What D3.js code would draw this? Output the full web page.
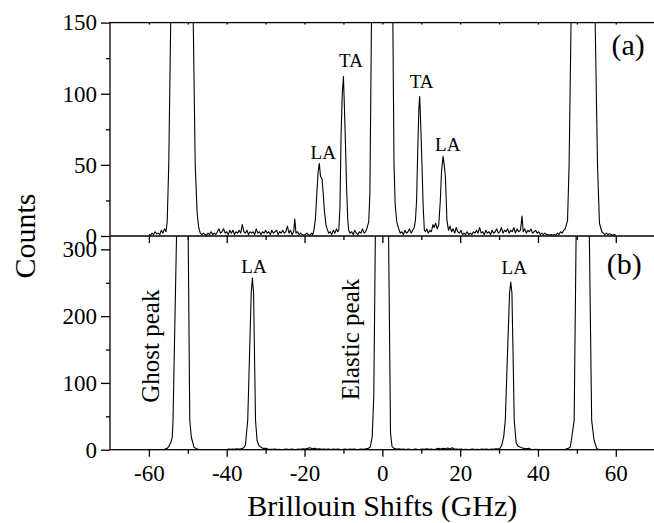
<!DOCTYPE html>
<html>
<head>
<meta charset="utf-8">
<script src="https://cdn.jsdelivr.net/npm/d3@7"></script>
<style>
  body { margin: 0; background: #fff; }
  svg { display: block; }
</style>
</head>
<body>
<svg id="brillouin" width="654" height="523"></svg>
<script>
// spectrum (a): [shift GHz, counts]
const specA = [
  [-60,1],[-59.6,0.5],[-59.2,2],[-58.8,1],[-58.4,3],[-58,1.5],[-57.6,2],[-57.2,1],[-56.8,4],[-56.4,2],[-56,5],[-55.6,3],
  [-55.3,10],[-54.9,50],[-54.4,150],[-53.8,600],[-51.5,3000],[-49.2,600],[-48.6,150],[-48.1,50],[-47.6,16],[-47.2,6],[-46.8,2],
  [-46.4,1],[-46,2],[-45.6,1],[-45.2,0.5],[-44.8,2],[-44.4,1],[-44,3],[-43.6,1],[-43.2,2],[-42.8,1],[-42.4,3],[-42,5],
  [-41.6,2],[-41.2,3],[-40.8,5],[-40.4,2],[-40,3],[-39.6,1],[-39.2,4],[-38.8,2],[-38.4,4],[-38,1],[-37.6,3],[-37.2,2],
  [-36.8,4],[-36.4,2],[-36,8],[-35.6,3],[-35.2,2],[-34.8,4],[-34.4,1],[-34,3],[-33.6,2],[-33.2,3],[-32.8,1],[-32.4,5],
  [-32,2],[-31.6,3],[-31.2,1],[-30.8,3],[-30.4,2],[-30,4],[-29.6,2],[-29.2,3],[-28.8,1],[-28.4,4],[-28,2],[-27.6,3],
  [-27.2,4],[-26.8,1],[-26.4,3],[-26,2],[-25.6,4],[-25.2,2],[-24.8,3],[-24.4,7],[-24,2],[-23.6,4],[-23.2,1],[-22.8,3],
  [-22.5,12],[-22.2,2],[-21.8,3],[-21.4,1],[-21,2],[-20.6,1],[-20.2,0.5],[-19.8,1],[-19.4,2],[-19,1],[-18.6,0.5],[-18.2,2],[-17.9,1],
  [-17.6,4],[-17.2,12],[-16.8,32],[-16.5,45],[-16.2,51],[-15.9,42],[-15.5,40],[-15.2,30],[-14.9,18],[-14.5,8],[-14.2,5],
  [-13.8,2],[-13.4,3],[-13,1],[-12.6,4],[-12.2,2],[-11.8,5],[-11.5,3],
  [-11.2,4],[-10.9,20],[-10.6,72],[-10.3,100],[-10,112],[-9.8,95],[-9.5,67],[-9.2,35],[-8.9,12],[-8.65,4],
  [-8.3,2],[-7.9,3],[-7.5,1],[-7.1,4],[-6.7,2],[-6.3,1],[-5.9,3],[-5.5,2],[-5.1,5],[-4.7,2],[-4.3,3],[-3.9,6],
  [-3.5,10],[-3.2,30],[-2.8,150],[-2.4,700],[0,3000],[2.3,700],[2.7,150],[3,50],[3.3,22],[3.7,10],[4.2,5],
  [4.6,2],[5,3],[5.4,1],[5.8,4],[6.2,2],[6.6,3],[7,5],[7.4,2],[7.8,4],[8.2,6],
  [8.5,11],[8.8,25],[9.1,61],[9.4,90],[9.6,98],[9.9,75],[10.2,49],[10.5,20],[10.8,4],
  [11.1,3],[11.4,5],[11.8,2],[12.2,4],[12.6,3],[13,8],[13.3,6],[13.7,9],[14.1,5],
  [14.5,8],[14.9,25],[15.2,45],[15.6,56],[15.9,50],[16.2,42],[16.6,11],[17,4],
  [17.4,7],[17.8,3],[18.2,5],[18.6,2],[19,6],[19.4,3],[19.8,2],[20.2,4],[20.6,1],[21,2],[21.4,1],[21.8,3],[22.2,1],
  [22.6,2],[23,1],[23.4,3],[23.8,2],[24.2,4],[24.6,2],[25,6],[25.4,2],[25.8,3],[26.2,1],[26.6,4],[27,2],[27.4,3],
  [27.8,1],[28.2,4],[28.6,2],[29,3],[29.4,5],[29.8,2],[30.2,3],[30.6,6],[31,2],[31.4,4],[31.8,3],[32.2,5],[32.6,2],
  [33,4],[33.4,3],[33.8,6],[34.2,2],[34.6,5],[35,3],[35.5,4],[35.9,14],[36.2,3],[36.6,5],[37,2],[37.4,4],[37.8,3],
  [38.2,5],[38.6,2],[39,3],[39.4,4],[39.8,2],[40.2,3],[40.6,1],[41,2],[41.4,1],[41.8,2],[42.2,1],[42.6,1],[43,0.5],
  [43.4,1],[43.8,0.5],[44.2,1],[44.6,0.5],[45,2],[45.4,1],[45.8,3],[46.2,2],[46.6,4],
  [47,5],[47.6,11],[48,50],[48.5,150],[49,600],[51.6,3000],[54.2,600],[54.7,150],[55.3,50],[55.8,9],[56.4,3],
  [56.8,2],[57.2,1],[57.6,2],[58,1],[58.4,1.5],[58.8,1],[59.2,0.5],[59.6,1],[60,0.5]
];

// spectrum (b)
const specB = [
  [-60,0],[-58,0],[-56,0.5],[-55.3,2],[-54.9,4.5],[-54.3,12],[-54,19],[-53.8,44],[-52.9,320],[-51.4,3000],
  [-49.9,320],[-49.5,44],[-49.1,19],[-48.4,3.5],[-47.6,1],[-47,0.3],[-40,0],
  [-39.5,1],[-39,0.5],[-38.5,1],[-38,0.5],[-37.5,1.5],[-37,1],[-36.5,1],[-36,2],[-35.6,3],
  [-35.2,7],[-34.6,44],[-34.1,150],[-33.7,235],[-33.4,257],[-33.1,235],[-32.8,120],[-32.6,44],[-32.2,14],[-31.8,7],[-31.3,4],
  [-30.7,2],[-30,2],[-29.4,1],[-28.8,0.5],[-28.2,0.5],[-27.6,1],[-27,0.3],[-26.4,0.5],[-25.8,0],[-25.2,0.5],[-24.6,1],
  [-24,0.3],[-23.4,1],[-22.8,0.5],[-22.2,0.3],[-21.6,1],[-21,0.5],[-20.4,1.5],[-19.8,1],[-19.2,2],[-18.6,3],[-18,1.5],
  [-17.4,2],[-16.8,1],[-16.2,1.5],[-15.6,0.5],[-15,1],[-14.4,0.5],[-13.8,1],[-13.2,0.3],[-12.6,1],[-12,0.5],[-11.4,1],
  [-10.8,0.3],[-10.2,0.5],[-9.6,1],[-9,0.3],[-8.4,1],[-7.8,0.5],[-7.2,1],[-6.6,0.3],[-6,0.5],[-5.4,1],[-4.8,0.5],
  [-4.2,1.5],[-3.6,2],[-3.1,4],[-2.6,20],[-2.2,80],[-1.8,320],[0,3000],[1.6,320],[2.1,25],[2.5,4.5],
  [3,2],[3.6,1],[4.2,1.5],[4.8,0.5],[5.4,1],[6,0.3],[6.6,1],[7.2,0.5],[7.8,0.3],[8.4,1],[9,0.5],[9.6,0.3],[10.2,1],
  [10.8,0.5],[11.4,1.5],[12,0.5],[12.6,1],[13.2,0.3],[13.8,1],[14.4,2],[15,1],[15.6,2],[16.2,1.5],[16.8,2.5],[17.4,1],
  [17.9,3],[18.4,1.5],[19,1],[19.6,0.5],[20.2,1],[20.8,0.3],[21.4,0.5],[22,0.3],[22.6,0.5],[23.2,1],[23.8,0.3],
  [24.4,0.5],[25,0.3],[25.6,1],[26.2,0.5],[26.8,1],[27.4,0.3],[28,1],[28.6,0.5],[29.2,1.5],[29.8,1],[30.3,2.5],
  [30.7,7],[31.2,20],[31.6,44],[32.2,150],[32.7,235],[33,251],[33.3,235],[33.7,110],[33.9,44],[34.4,10],[34.9,5],
  [35.8,3],[36.4,2],[37,1.5],[37.6,2],[38.2,0.5],[38.8,0.3],[39.4,0.5],[40,0.3],[41,0.2],[42,0.3],[43,0.2],[44,0.3],
  [45,0.2],[46,0.3],[47,0.5],[47.8,2],[48.3,4],[48.7,19],[49.3,44],[49.8,320],[51.5,3000],[53.2,320],[53.8,44],
  [54.4,14.5],[55.1,2],[55.6,0.5],[56,0]
];

// peak labels, anchored in data units
const labelsA = [
  { text: "LA", shift: -15.2, count: 54 },
  { text: "TA", shift: -8.05, count: 119 },
  { text: "TA", shift: 10.1, count: 104 },
  { text: "LA", shift: 16.8, count: 60 }
];
const labelsB = [
  { text: "LA", shift: -33.0, count: 265 },
  { text: "LA", shift: 33.9, count: 263 }
];
const peakNames = [
  { text: "Ghost peak", shift: -57.4, count: 155 },
  { text: "Elastic peak", shift: -5.9, count: 165 }
];

const xMajor = [-60, -40, -20, 0, 20, 40, 60];
const xMinor = [-50, -30, -10, 10, 30, 50];
const xEdge = [-60, -50, -40, -30, -20, -10, 0, 10, 20, 30, 40, 50, 60];
const yMajorA = [0, 50, 100, 150], yMinorA = [25, 75, 125];
const yMajorB = [0, 100, 200, 300], yMinorB = [50, 150, 250];

const serif = "'Liberation Serif', 'Times New Roman', serif";
const plotL = 110, plotR = 654.7, plotT = 22.6, plotM = 236, plotB = 449.7;

const svg = d3.select("#brillouin");

const x = d3.scaleLinear().domain([-70, 70]).range([plotL, plotR]);
const yA = d3.scaleLinear().domain([0, 150]).range([plotM, plotT]);
const yB = d3.scaleLinear().domain([0, 320]).range([plotB, plotM]);

const defs = svg.append("defs");
defs.append("clipPath").attr("id", "clipA").append("rect")
  .attr("x", plotL).attr("y", plotT).attr("width", plotR - plotL).attr("height", plotM - plotT);
defs.append("clipPath").attr("id", "clipB").append("rect")
  .attr("x", plotL).attr("y", plotM).attr("width", plotR - plotL).attr("height", plotB - plotM);

// axis helper: drop domain path, restyle
const tidy = (g, size) => g
  .attr("font-family", serif)
  .attr("font-size", size)
  .call(g => g.select(".domain").remove())
  .call(g => g.selectAll("line").attr("stroke", "#000").attr("stroke-width", 1.3))
  .call(g => g.selectAll("text").attr("fill", "#000"));

// left axes
svg.append("g").attr("transform", `translate(${plotL},0)`)
  .call(d3.axisLeft(yA).tickValues(yMajorA).tickSize(9).tickPadding(4))
  .call(tidy, 23);
svg.append("g").attr("transform", `translate(${plotL},0)`)
  .call(d3.axisLeft(yA).tickValues(yMinorA).tickSize(4).tickFormat(""))
  .call(tidy, 23);
svg.append("g").attr("transform", `translate(${plotL},0)`)
  .call(d3.axisLeft(yB).tickValues(yMajorB).tickSize(9).tickPadding(4))
  .call(tidy, 23);
svg.append("g").attr("transform", `translate(${plotL},0)`)
  .call(d3.axisLeft(yB).tickValues(yMinorB).tickSize(4).tickFormat(""))
  .call(tidy, 23);

// bottom axes: panel (b) labelled, panel (a) ticks only
svg.append("g").attr("transform", `translate(0,${plotB})`)
  .call(d3.axisBottom(x).tickValues(xMajor).tickSize(7).tickPadding(8).tickFormat(d => String(d)))
  .call(tidy, 23);
svg.append("g").attr("transform", `translate(0,${plotB})`)
  .call(d3.axisBottom(x).tickValues(xMinor).tickSize(4).tickFormat(""))
  .call(tidy, 23);
svg.append("g").attr("transform", `translate(0,${plotM})`)
  .call(d3.axisBottom(x).tickValues(xMajor).tickSize(7).tickFormat(""))
  .call(tidy, 23);
svg.append("g").attr("transform", `translate(0,${plotM})`)
  .call(d3.axisBottom(x).tickValues(xMinor).tickSize(4).tickFormat(""))
  .call(tidy, 23);
// tiny inward ticks on the top edge
svg.append("g").attr("transform", `translate(0,${plotT})`)
  .call(d3.axisBottom(x).tickValues(xEdge).tickSize(2).tickFormat(""))
  .call(tidy, 23);

// frame
const frame = svg.append("g").attr("stroke", "#000").attr("stroke-width", 1.3).attr("fill", "none");
frame.append("rect").attr("x", plotL).attr("y", plotT).attr("width", plotR - plotL).attr("height", plotB - plotT);
frame.append("line").attr("x1", plotL).attr("x2", plotR).attr("y1", plotM).attr("y2", plotM);

// spectra
const lineA = d3.line().x(d => x(d[0])).y(d => yA(d[1]));
const lineB = d3.line().x(d => x(d[0])).y(d => yB(d[1]));

svg.append("path").datum(specA)
  .attr("clip-path", "url(#clipA)")
  .attr("fill", "none").attr("stroke", "#000").attr("stroke-width", 1.1)
  .attr("stroke-linejoin", "round")
  .attr("d", lineA);
svg.append("path").datum(specB)
  .attr("clip-path", "url(#clipB)")
  .attr("fill", "none").attr("stroke", "#000").attr("stroke-width", 1.1)
  .attr("stroke-linejoin", "round")
  .attr("d", lineB);

// peak labels
svg.append("g").attr("font-family", serif).attr("font-size", 19).attr("text-anchor", "middle")
  .selectAll("text").data(labelsA).join("text")
  .attr("x", d => x(d.shift)).attr("y", d => yA(d.count)).text(d => d.text);
svg.append("g").attr("font-family", serif).attr("font-size", 19).attr("text-anchor", "middle")
  .selectAll("text").data(labelsB).join("text")
  .attr("x", d => x(d.shift)).attr("y", d => yB(d.count)).text(d => d.text);

svg.append("g").attr("font-family", serif).attr("font-size", 25).attr("text-anchor", "middle")
  .selectAll("text").data(peakNames).join("text")
  .attr("transform", d => `translate(${x(d.shift)},${yB(d.count)}) rotate(-90)`)
  .text(d => d.text);

// panel tags
svg.append("text").attr("x", plotR - 10).attr("y", plotT + 32)
  .attr("font-family", serif).attr("font-size", 30).attr("text-anchor", "end").text("(a)");
svg.append("text").attr("x", plotR - 13).attr("y", plotM + 38)
  .attr("font-family", serif).attr("font-size", 30).attr("text-anchor", "end").text("(b)");

// axis titles
svg.append("text")
  .attr("transform", `translate(35,${plotM}) rotate(-90)`)
  .attr("font-family", serif).attr("font-size", 30).attr("text-anchor", "middle")
  .text("Counts");
svg.append("text")
  .attr("x", x(0)).attr("y", 516)
  .attr("font-family", serif).attr("font-size", 30).attr("text-anchor", "middle")
  .text("Brillouin Shifts (GHz)");
</script>
</body>
</html>
